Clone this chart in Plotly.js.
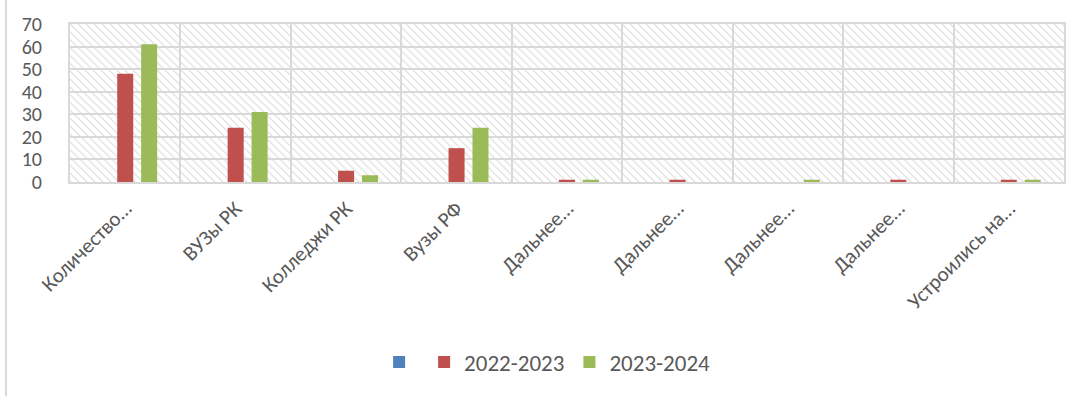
<!DOCTYPE html>
<html>
<head>
<meta charset="utf-8">
<script src="https://cdn.plot.ly/plotly-3.0.1.min.js"></script>
<style>
  html, body { margin: 0; padding: 0; background: #fff; }
  #wrap { position: relative; width: 1082px; height: 396px; }
  #chart { width: 1082px; height: 396px; }
  #frame { position: absolute; left: 5px; top: 0; width: 2px; height: 396px; background: #d9d9d9; }
</style>
</head>
<body>
<div id="wrap">
  <div id="chart"></div>
  <div id="frame"></div>
</div>
<script>
const categories = ["Количество…", "ВУЗы РК", "Колледжи РК", "Вузы РФ", "Дальнее…", "Дальнее…", "Дальнее…", "Дальнее…", "Устроились на…"];
const seriesNames = ["", "2022-2023", "2023-2024"];
const blueValues = [null, null, null, null, null, null, null, null, null];
const values2022 = [48, 24, 5, 15, 1, 1, 0, 1, 1];
const values2023 = [61, 31, 3, 24, 1, 0, 1, 0, 1];
const yTicks = [0, 10, 20, 30, 40, 50, 60, 70];

const xIdx = categories.map((c, i) => i);
const colors = ["#4f81bd", "#c0504d", "#9bbb59"];
const allValues = [blueValues, values2022, values2023];

const traces = allValues.map((vals, k) => ({
  type: "bar",
  name: seriesNames[k],
  x: xIdx,
  y: vals,
  marker: { color: colors[k] },
  hoverinfo: "skip"
}));

const svg = '<svg xmlns="http://www.w3.org/2000/svg" width="994" height="161" viewBox="0 0 994 161" preserveAspectRatio="none">' +
  '<defs><pattern id="p" width="8" height="8" patternUnits="userSpaceOnUse">' +
  '<path d="M-2,-2 L10,10 M-2,6 L2,10 M6,-2 L10,2" stroke="#dcdcdc" stroke-width="1.2"/>' +
  '</pattern></defs><rect width="994" height="161" fill="#ffffff"/><rect width="994" height="161" fill="url(#p)"/></svg>';

const font = "Calibri, Carlito, 'Open Sans', sans-serif";

const layout = {
  width: 1082,
  height: 396,
  margin: { l: 70, r: 18, t: 24, b: 210 },
  paper_bgcolor: "#ffffff",
  plot_bgcolor: "rgba(0,0,0,0)",
  font: { family: font, color: "#595959", size: 21 },
  barmode: "group",
  bargap: 0.35,
  bargroupgap: 0.33,
  showlegend: true,
  legend: {
    orientation: "h",
    x: 0.48, xanchor: "center",
    y: -1.14, yanchor: "middle",
    font: { size: 23, color: "#595959" },
    itemwidth: 30,
    traceorder: "normal"
  },
  xaxis: {
    type: "linear",
    range: [-0.5, categories.length - 0.5],
    tickmode: "array",
    tickvals: xIdx,
    ticktext: categories,
    tickangle: -45,
    ticks: "",
    ticklabelstandoff: 4,
    showgrid: false,
    zeroline: false,
    showline: true,
    linecolor: "#d9d9d9",
    linewidth: 2,
    mirror: true,
    minor: { tick0: 0.5, dtick: 1, showgrid: true, gridcolor: "#d9d9d9", gridwidth: 2, ticks: "" },
    tickfont: { size: 21, color: "#595959" },
    fixedrange: true
  },
  yaxis: {
    range: [0, 70],
    tickmode: "array",
    tickvals: yTicks,
    showgrid: true,
    gridcolor: "#d9d9d9",
    gridwidth: 2,
    zeroline: false,
    showline: true,
    linecolor: "#d9d9d9",
    linewidth: 2,
    mirror: true,
    ticks: "",
    ticklabelstandoff: 22,
    tickfont: { size: 20, color: "#595959" },
    fixedrange: true
  },
  images: [{
    source: "data:image/svg+xml;charset=utf-8," + encodeURIComponent(svg),
    xref: "paper", yref: "paper",
    x: 0, y: 1, sizex: 1, sizey: 1,
    xanchor: "left", yanchor: "top",
    sizing: "stretch",
    layer: "below"
  }]
};

Plotly.newPlot("chart", traces, layout, { displayModeBar: false, staticPlot: true });
</script>
</body>
</html>
